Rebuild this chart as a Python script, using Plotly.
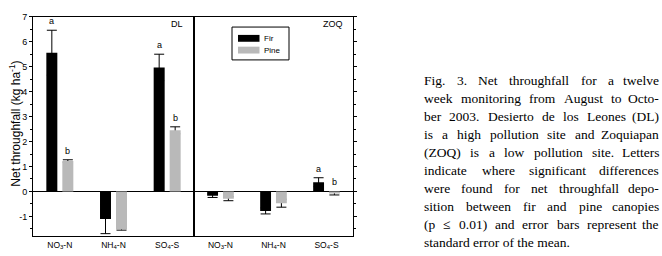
import plotly.graph_objects as go

W, H = 662, 256

# ---------------- data ----------------
categories = ["NO3-N", "NH4-N", "SO4-S"]
tick_labels = ["NO<sub>3</sub>-N", "NH<sub>4</sub>-N", "SO<sub>4</sub>-S"]

dl_fir = [5.56, -1.10, 4.97]
dl_fir_err = [0.90, 0.59, 0.53]
dl_pine = [1.22, -1.52, 2.45]
dl_pine_err = [0.05, 0.03, 0.14]

zoq_fir = [-0.17, -0.78, 0.37]
zoq_fir_err = [0.07, 0.12, 0.18]
zoq_pine = [-0.29, -0.47, -0.08]
zoq_pine_err = [0.08, 0.16, 0.06]

dl_fir_letters = ["a", "", "a"]
dl_pine_letters = ["b", "", "b"]
zoq_fir_letters = ["", "", "a"]
zoq_pine_letters = ["", "", "b"]

y_ticks = [-1, 0, 1, 2, 3, 4, 5, 6, 7]
y_minor = [-1.5, -0.5, 0.5, 1.5, 2.5, 3.5, 4.5, 5.5, 6.5]

caption_lines = [
    "Fig. 3. Net throughfall for a twelve",
    "week monitoring from August to Octo-",
    "ber 2003. Desierto de los Leones (DL)",
    "is a high pollution site and Zoquiapan",
    "(ZOQ) is a low pollution site. Letters",
    "indicate where significant differences",
    "were found for net throughfall depo-",
    "sition between fir and pine canopies",
    "(p \u2264 0.01) and error bars represent the",
    "standard error of the mean.",
]

# ---------------- style ----------------
FIR_COLOR = "#000000"
PINE_COLOR = "#b9b9b9"
SANS = "Liberation Sans, Arial, sans-serif"
SERIF = "Liberation Serif"
BARGAP = 0.404
BARGROUPGAP = 0.3125


def px(x):
    return x / W


def py(y):
    return 1 - y / H


fig = go.Figure()

panels = [
    ("x", "y", dl_fir, dl_fir_err, dl_pine, dl_pine_err, dl_fir_letters, dl_pine_letters),
    ("x2", "y2", zoq_fir, zoq_fir_err, zoq_pine, zoq_pine_err, zoq_fir_letters, zoq_pine_letters),
]

for xa, ya, fir, fir_err, pine, pine_err, fl, pl in panels:
    for name, vals, errs, color, grp in [
        ("Fir", fir, fir_err, FIR_COLOR, "fir"),
        ("Pine", pine, pine_err, PINE_COLOR, "pine"),
    ]:
        # carrier trace for error bars (drawn underneath the visible bars)
        fig.add_trace(go.Bar(
            x=categories, y=vals, xaxis=xa, yaxis=ya, offsetgroup=grp,
            marker=dict(color="rgba(0,0,0,0)", line=dict(width=0)),
            error_y=dict(type="data", array=errs, symmetric=True,
                         color="black", thickness=1, width=5),
            showlegend=False, hoverinfo="skip",
        ))
        fig.add_trace(go.Bar(
            x=categories, y=vals, xaxis=xa, yaxis=ya, offsetgroup=grp,
            name=name, marker=dict(color=color, line=dict(width=0)),
            showlegend=False,
        ))

# significance letters
half = (1 - BARGAP) / 4
annotations = []
for xa, ya, fir, fir_err, pine, pine_err, fl, pl in panels:
    for vals, errs, letters, off in [(fir, fir_err, fl, -half), (pine, pine_err, pl, half)]:
        for i, (v, e, t) in enumerate(zip(vals, errs, letters)):
            if not t:
                continue
            top = v + e if v >= 0 else 0
            annotations.append(dict(
                x=i + off, y=top, xref=xa, yref=ya, text=t, showarrow=False,
                yanchor="bottom", yshift=2, font=dict(family=SANS, size=9, color="black"),
            ))

# panel labels
annotations.append(dict(x=px(185), y=py(19), xref="paper", yref="paper", text="DL",
                        showarrow=False, xanchor="right", yanchor="middle",
                        font=dict(family=SANS, size=9, color="black")))
annotations.append(dict(x=px(345), y=py(19), xref="paper", yref="paper", text="ZOQ",
                        showarrow=False, xanchor="right", yanchor="middle",
                        font=dict(family=SANS, size=9, color="black")))

# y-axis title
annotations.append(dict(x=px(15), y=py(121), xref="paper", yref="paper",
                        text="Net throughfall (kg ha<sup>-1</sup>)", textangle=-90,
                        showarrow=False, xanchor="center", yanchor="middle",
                        font=dict(family=SANS, size=12, color="black")))

# legend (manual)
shapes = [
    dict(type="rect", xref="paper", yref="paper", x0=px(232), x1=px(289), y0=py(56), y1=py(22.5),
         line=dict(color="black", width=1), fillcolor="white"),
    dict(type="rect", xref="paper", yref="paper", x0=px(238), x1=px(259.5), y0=py(37.5), y1=py(30.5),
         line=dict(width=0), fillcolor=FIR_COLOR),
    dict(type="rect", xref="paper", yref="paper", x0=px(238), x1=px(259.5), y0=py(49.5), y1=py(42.5),
         line=dict(width=0), fillcolor=PINE_COLOR),
]
annotations.append(dict(x=px(263), y=py(34), xref="paper", yref="paper", text="Fir",
                        showarrow=False, xanchor="left", yanchor="middle", borderpad=0,
                        font=dict(family=SANS, size=8, color="black")))
annotations.append(dict(x=px(263), y=py(46), xref="paper", yref="paper", text="Pine",
                        showarrow=False, xanchor="left", yanchor="middle", borderpad=0,
                        font=dict(family=SANS, size=8, color="black")))

# caption (justified, Times metrics)
TNR = {
    " ": 250, "(": 333, ")": 333, ",": 250, "-": 333, ".": 250, "\u2264": 549,
    "A": 722, "B": 667, "C": 667, "D": 722, "E": 611, "F": 556, "G": 722, "H": 722,
    "I": 333, "J": 389, "K": 722, "L": 611, "M": 889, "N": 722, "O": 722, "P": 556,
    "Q": 722, "R": 667, "S": 556, "T": 611, "U": 722, "V": 722, "W": 944, "X": 722,
    "Y": 722, "Z": 611,
    "a": 444, "b": 500, "c": 444, "d": 500, "e": 444, "f": 333, "g": 500, "h": 500,
    "i": 278, "j": 278, "k": 500, "l": 278, "m": 778, "n": 500, "o": 500, "p": 500,
    "q": 500, "r": 333, "s": 389, "t": 278, "u": 500, "v": 500, "w": 722, "x": 500,
    "y": 500, "z": 444,
}
CAP_SIZE = 13.5
CX0, CX1 = 423, 660
LINE0, LINE_STEP = 77, 18.4


def text_width(s):
    return sum(TNR.get(c, 500) for c in s) / 1000 * CAP_SIZE


cap_font = dict(family=SERIF, size=CAP_SIZE, color="black")
for i, line in enumerate(caption_lines):
    yc = LINE0 + i * LINE_STEP
    if i == len(caption_lines) - 1:
        annotations.append(dict(x=px(CX0), y=py(yc), xref="paper", yref="paper", text=line,
                                showarrow=False, xanchor="left", yanchor="middle",
                                borderpad=0, font=cap_font))
        continue
    words = line.split(" ")
    widths = [text_width(w) for w in words]
    gap = (CX1 - CX0 - sum(widths)) / (len(words) - 1)
    xpos = CX0
    for j, (wd, wdt) in enumerate(zip(words, widths)):
        last = j == len(words) - 1
        annotations.append(dict(x=px(CX1 if last else xpos), y=py(yc), xref="paper", yref="paper",
                                text=wd, showarrow=False, xanchor="right" if last else "left",
                                yanchor="middle", borderpad=0, font=cap_font))
        xpos += wdt + gap

yaxis_common = dict(
    range=[-1.8, 7], tickvals=y_ticks, ticktext=[str(v) for v in y_ticks],
    ticks="outside", ticklen=3, tickwidth=1, tickcolor="black",
    minor=dict(tickvals=y_minor, ticks="outside", ticklen=2, tickwidth=1, tickcolor="black"),
    showline=True, linecolor="black", linewidth=1, mirror=True,
    zeroline=True, zerolinecolor="black", zerolinewidth=1, showgrid=False,
    tickfont=dict(family=SANS, size=9, color="black"),
    domain=[py(236), py(12)],
)
xaxis_common = dict(
    type="category", categoryorder="array", categoryarray=categories,
    tickvals=categories, ticktext=tick_labels, ticks="", showgrid=False,
    showline=True, linecolor="black", linewidth=1, mirror=True,
    tickfont=dict(family=SANS, size=8.5, color="black"), range=[-0.5, 2.5],
)

fig.update_layout(
    width=W, height=H, margin=dict(l=0, r=0, t=0, b=0),
    paper_bgcolor="white", plot_bgcolor="white",
    barmode="group", bargap=BARGAP, bargroupgap=BARGROUPGAP,
    showlegend=False,
    xaxis=dict(xaxis_common, domain=[px(33), px(194)], anchor="y"),
    xaxis2=dict(xaxis_common, domain=[px(194), px(353)], anchor="y2"),
    yaxis=dict(yaxis_common, anchor="x"),
    yaxis2=dict(yaxis_common, anchor="x2", side="right", showticklabels=False, matches="y"),
    annotations=annotations, shapes=shapes,
)

fig.write_html("out.html", config={"displayModeBar": False},
               post_script="document.body.style.margin='0';document.body.style.overflow='hidden';")
